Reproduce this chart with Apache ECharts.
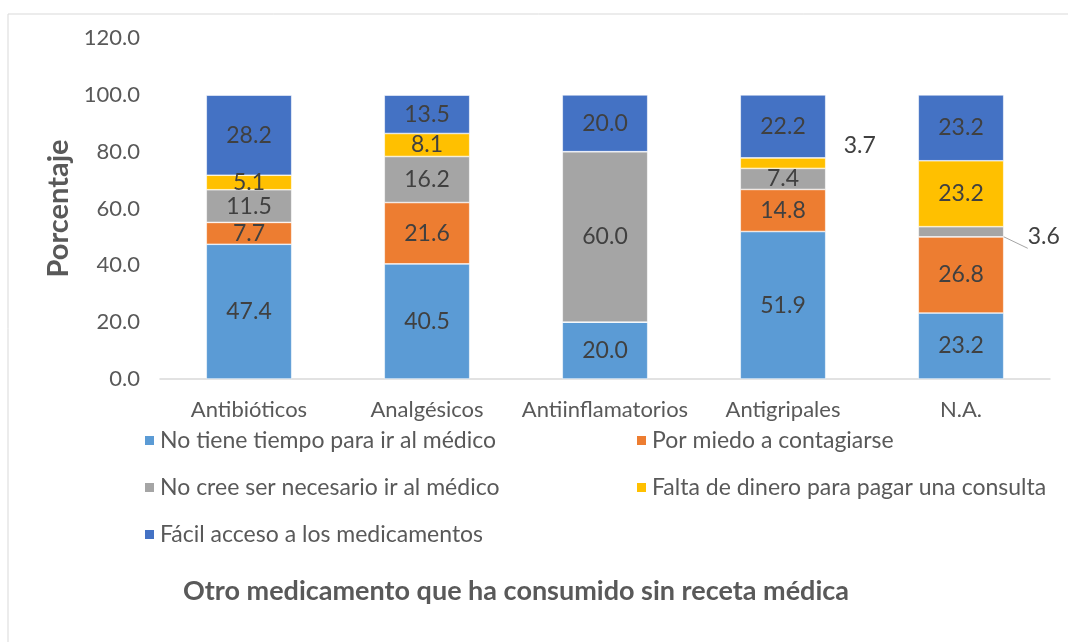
<!DOCTYPE html>
<html>
<head>
<meta charset="utf-8">
<script src="https://cdn.jsdelivr.net/npm/echarts@6/dist/echarts.min.js"></script>
<style>
  html, body { margin: 0; padding: 0; background: #fff; }
  #chart { width: 1068px; height: 642px; }
</style>
</head>
<body>
<div id="chart"></div>
<script>
const categories = ['Antibióticos', 'Analgésicos', 'Antiinflamatorios', 'Antigripales', 'N.A.']
const seriesNames = [
  'No tiene tiempo para ir al médico',
  'Por miedo a contagiarse',
  'No cree ser necesario ir al médico',
  'Falta de dinero para pagar una consulta',
  'Fácil acceso a los medicamentos'
]
const noTiempo = [47.4, 40.5, 20.0, 51.9, 23.2]
const porMiedo = [7.7, 21.6, 0, 14.8, 26.8]
const noCree = [11.5, 16.2, 60.0, 7.4, 3.6]
const faltaDinero = [5.1, 8.1, 0, 3.7, 23.2]
const facilAcceso = [28.2, 13.5, 20.0, 22.2, 23.2]
const yTicks = [0, 20, 40, 60, 80, 100, 120]

const colors = ['#5B9BD5', '#ED7D31', '#A5A5A5', '#FFC000', '#4472C4']
const FONT = 'Lato, "Liberation Sans", sans-serif'

const chart = echarts.init(document.getElementById('chart'))

const labelBase = {
  show: true,
  position: 'inside',
  color: '#404040',
  fontSize: 23,
  fontFamily: FONT,
  formatter: p => (p.value ? p.value.toFixed(1) : '')
}

const makeData = (values, special) => values.map((v, i) => {
  if (special && special[i]) return { value: v, ...special[i] }
  return v
})

const allValues = [noTiempo, porMiedo, noCree, faltaDinero, facilAcceso]
// two small segments carry their labels outside the bar
const specials = [
  null,
  null,
  { 4: { label: { position: 'right', distance: 24, offset: [0, 5] }, labelLine: { show: true, lineStyle: { color: '#A5A5A5' } } } },
  { 3: { label: { position: 'right', distance: 18, offset: [0, -18] } } },
  null
]

const series = allValues.map((vals, idx) => ({
  name: seriesNames[idx],
  type: 'bar',
  stack: 'total',
  barWidth: '48%',
  itemStyle: { color: colors[idx], borderColor: '#fff', borderWidth: 0.6 },
  label: labelBase,
  data: makeData(vals, specials[idx])
}))

const legendText = { color: '#595959', fontSize: 23, lineHeight: 23, fontFamily: FONT }

const option = {
  backgroundColor: '#fff',
  animation: false,
  color: colors,
  title: {
    text: 'Otro medicamento que ha consumido sin receta médica',
    left: 178,
    top: 573,
    textStyle: { color: '#595959', fontSize: 27, fontWeight: 'bold', fontFamily: FONT }
  },
  legend: [
    {
      data: [seriesNames[0], seriesNames[2], seriesNames[4]],
      orient: 'vertical',
      left: 138,
      top: 424,
      itemWidth: 11,
      itemHeight: 11,
      itemGap: 24,
      icon: 'rect',
      textStyle: legendText
    },
    {
      data: [seriesNames[1], seriesNames[3]],
      orient: 'vertical',
      left: 630,
      top: 424,
      itemWidth: 11,
      itemHeight: 11,
      itemGap: 24,
      icon: 'rect',
      textStyle: legendText
    }
  ],
  grid: { left: 160, right: 18, top: 38, bottom: 263 },
  xAxis: {
    type: 'category',
    data: categories,
    axisLine: { lineStyle: { color: '#D9D9D9', width: 1.5 } },
    axisTick: { show: false },
    axisLabel: { color: '#595959', fontSize: 22, fontFamily: FONT, margin: 20, interval: 0 }
  },
  yAxis: {
    type: 'value',
    min: yTicks[0],
    max: yTicks[yTicks.length - 1],
    interval: 20,
    name: 'Porcentaje',
    nameLocation: 'middle',
    nameGap: 86,
    nameRotate: 90,
    nameTextStyle: { color: '#595959', fontSize: 29, fontWeight: 'bold', fontFamily: FONT },
    splitLine: { show: false },
    axisLine: { show: false },
    axisTick: { show: false },
    axisLabel: { color: '#595959', fontSize: 22, fontFamily: FONT, margin: 20, formatter: v => v.toFixed(1) }
  },
  graphic: [
    {
      type: 'rect',
      shape: { x: 8, y: 14, width: 1075, height: 640 },
      style: { fill: 'none', stroke: '#D9D9D9', lineWidth: 1 },
      silent: true
    }
  ],
  series
}

chart.setOption(option)
</script>
</body>
</html>
